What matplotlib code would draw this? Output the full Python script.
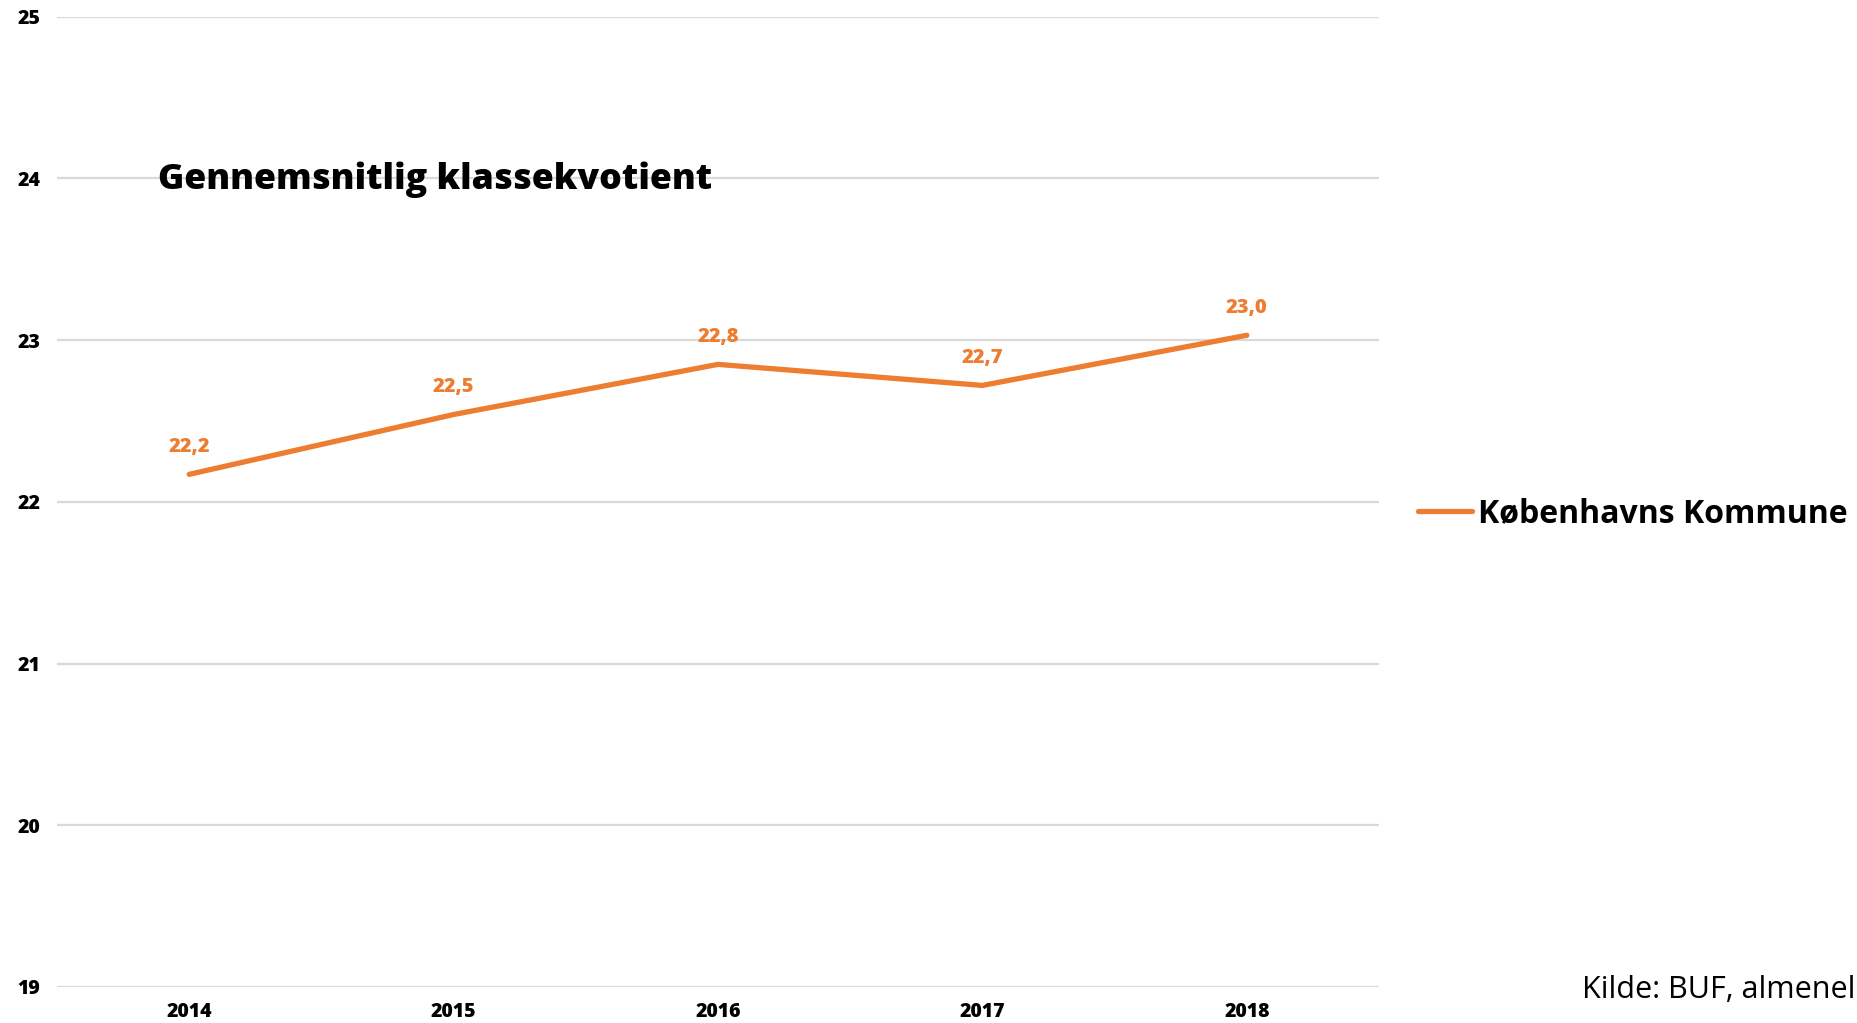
import matplotlib
matplotlib.use("Agg")
import matplotlib.pyplot as plt
import numpy as np

plt.rcParams['font.family'] = ['Open Sans', 'DejaVu Sans']

years = ['2014', '2015', '2016', '2017', '2018']
values = [22.17, 22.54, 22.85, 22.72, 23.03]
labels = ['22,2', '22,5', '22,8', '22,7', '23,0']
series_name = 'Københavns Kommune'
title = 'Gennemsnitlig klassekvotient'
source = 'Kilde: BUF, almenel'

orange = '#ED7D31'
W, H = 1858, 1023

fig = plt.figure(figsize=(W / 100, H / 100), dpi=100)
ax = fig.add_axes([57 / W, 1 - 987 / H, (1379 - 57) / W, (987 - 16.7) / H])

x = np.arange(len(years))
line, = ax.plot(x, values, color=orange, lw=3.8, solid_capstyle='round',
                solid_joinstyle='round', label=series_name, zorder=3)

# etiketter over punkterne
for xi, v, lab in zip(x, values, labels):
    ax.annotate(lab, (xi, v), xytext=(0, 19.5), textcoords='offset points',
                ha='center', va='center', color=orange, fontsize=14.5,
                fontweight=800)

ax.set_xlim(-0.5, len(years) - 0.5)
ax.set_ylim(19, 25)
ax.set_yticks(range(19, 26))
ax.set_xticks(x)
ax.set_xticklabels(years)
ax.grid(axis='y', color='#d9d9d9', lw=1.6)
ax.set_axisbelow(True)
for s in ax.spines.values():
    s.set_visible(False)
ax.tick_params(axis='both', length=0, labelsize=14)
ax.tick_params(axis='y', pad=12)
ax.tick_params(axis='x', pad=10.5)
for t in ax.get_xticklabels() + ax.get_yticklabels():
    t.set_fontweight(800)

fig.text(158 / W, 1 - 180 / H, title, fontsize=25.7, fontweight=800,
         va='center', ha='left')

fig.legend(handles=[line], loc='center left',
           bbox_to_anchor=(1418 / W, 1 - 514 / H), frameon=False,
           borderpad=0, borderaxespad=0, handlelength=1.7, handletextpad=0.18,
           prop={'size': 23, 'weight': 'bold'})

fig.text(1582 / W, 1 - 990 / H, source, fontsize=22, va='center', ha='left')

fig.savefig('out.png', dpi=100)
